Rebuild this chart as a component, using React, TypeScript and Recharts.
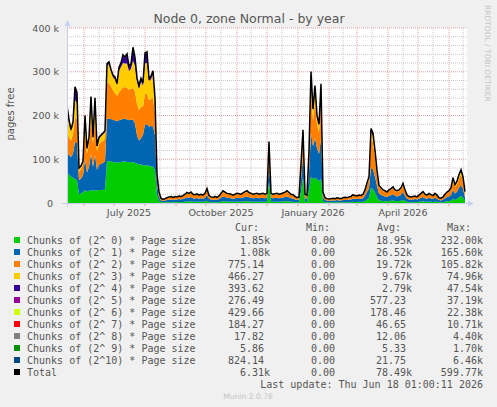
import React from "react";
import { ComposedChart, Area, Line, XAxis, YAxis, CartesianGrid } from "recharts";

// values in thousands of pages, one point every 2 days
const chunk0 = [70,65,60,58,55,52,20,22,25,30,25,28,30,28,30,28,30,30,30,32,
95,96,95,94,93,92,93,94,95,95,94,93,94,93,92,90,88,88,86,87,
86,85,84,83,75,20,5,2,1.5,1.5,2,2,2,2,2,2,2.5,2,2.5,3,
3.5,3,4,3,3,3,3,3,3,3,5,2.5,2,2,2,2,2.5,3,4,4,
3,3,3,3,3,3,3,3,3.5,4,4,3.5,3,3,3,3,3,3,3,3,
3,50,3,3,3,3,3,3,3.5,4,4,3.5,3,3,2,2,2,25,60,3,
3,30,60,55,58,55,50,55,4,2,1.5,1.5,1.5,2,1.5,2,2,1.5,2,2,
2,2,2,3,2.5,2.5,3,2.5,3,4.5,8,12,35,32,24,14,6,5,4.5,4,
4,4.5,5,5.5,4.5,4,4.5,5,7,4.5,3,2,2,2,2.5,2,3,3,4,3,
3,3,3,2.5,3,3,2,2,2,3,4,4,5.5,10,7,9,13,16,12,5];
const chunk1 = [45,45,45,55,85,85,32,34,38,70,45,55,82,55,80,48,57,60,62,63,
97,97,97,96,96,95,96,97,97,98,97,96,97,97,90,65,55,60,70,92,
94,90,92,92,80,22,9,4,3,4,5,6,6,5,6,6,6.5,6,7,8,
9.5,9,10,8,7.5,8.5,7,8,7,9,13,7,6,5,6,5,6.5,9,11,10,
9,8.5,8,7,8,9,8.5,8,9,10,11,9.5,9,8,8.5,9,8,8.5,9,8,
9,40,9,8,8.5,9,8,8.5,9,10,11,9.5,8,7.5,6,5,6,30,45,8,
7,40,100,75,90,70,62,92,10,5,4,3.5,4,4,4,5,4,4,5,5,
5,6,6,7.5,7,6.5,7,7,8,12,18,22,45,45,36,25,16,14,12,11,
10,12,13,15,12,11,12,14,18,12,7,6,6,6,6.5,6,7,9,10,8,
7,9,7.5,7,9,7,5,4,6,8,10,11,13,20,15,17,22,25,20,8];
const chunk2 = [45,40,38,45,55,55,20,22,25,70,43,52,85,52,85,42,48,49,50,52,
80,82,75,68,62,58,64,68,72,72,72,70,70,73,72,72,70,72,65,70,
70,60,62,65,50,16,8,4,3,4,4,5,6,5,6,5,6,6,6.5,7.5,
9,8,9,7.5,7,8,7,7.5,7,8,12.5,6.5,5,5,6,5,6,8,11,9,
8,8,7.5,7,7.5,8,8,7.5,9,10,11,9,8,7.5,8,8,7.5,8,8,7.5,
8,35,8,7.5,8,8,7.5,8,9,9,11,9,7.5,7,6,4,5,25,42,7.5,
7,35,95,60,85,55,50,90,9,4,4,3.5,4,4,4,4,4,4,4,5,
4,5,6,7,6.5,6,7,6.5,7.5,11,16,20,65,60,44,27,14,13.5,11,11,
9,11,12.5,14,11,11,11,13.5,17,11,7,6,5,6,6,5,7,8,10,7.5,
7,8,7,6.5,8,7,4,4,5,7.5,9,11,13,20,15,17,21,24,20,8];
const chunk3 = [50,33,20,22,40,37,6,5,5,25,10,12,38,12,37,10,12,13,15,15,
41,42,33,29,32,24,50,52,56,54,56,43,46,62,60,50,48,57,47,70,
70,44,45,54,30,6,2,1,0.5,0.5,1,1,1,1,1,1,1,1,1,1,
1.5,1.5,1.5,1,1,1,1,1,1,1.5,2,1,1,1,1,1,1,1.5,1.5,1.5,
1.5,1,1,1,1,1.5,1,1,1,1.5,1.5,1.5,1.5,1,1,1.5,1,1,1.5,1,
1.5,10,1.5,1,1,1.5,1,1,1,1.5,1.5,1.5,1,1,1,1,1,7,14,1,
1,10,35,20,28,16,14,28,1.5,1,0.5,0.5,0.5,1,0.5,1,1,0.5,1,1,
1,1,1,1,1,1,1,1,1,2,3,4,18,16,11,6,3,2,2,1.5,
1.5,2,2,2,2,1.5,2,2,2.5,2,1,1,1,1,1,1,1,1.5,1.5,1,
1,1.5,1,1,1.5,1,1,1,1,1,1.5,1.5,3,6,4,5,7,8,6,3];
const chunk4 = [10,5,4,4,27,20,1,1,1,4,1,2,6,2,6,1,2,2,2,2,
4,4,4,4,4,3,6,8,16,12,19,9,10,27,16,7,6,7,6,21,
23,5,6,7,4,1,0.5,0,0,0,0,0,0,0,0,0,0,0,0,0.5,
0.5,0.5,0.5,0.5,0.5,0.5,0,0.5,0,0.5,0.5,0,0,0,0,0,0,0.5,0.5,0.5,
0.5,0.5,0.5,0,0.5,0.5,0.5,0.5,0.5,0.5,0.5,0.5,0.5,0.5,0.5,0.5,0.5,0.5,0.5,0.5,
0.5,3,0.5,0.5,0.5,0.5,0.5,0.5,0.5,0.5,0.5,0.5,0.5,0.5,0,0,0,2,4,0.5,
0,4,8,4,6,3,3,6,0.5,0,0,0,0,0,0,0,0,0,0,0,
0,0,0,0.5,0,0,0,0,0.5,0.5,1,1,5,5,4,2,1,0.5,0.5,0.5,
0.5,0.5,0.5,0.5,0.5,0.5,0.5,0.5,0.5,0.5,0,0,0,0,0,0,0,0.5,0.5,0.5,
0,0.5,0.5,0,0.5,0,0,0,0,0.5,0.5,0.5,0.5,1.5,1,1.5,1.5,2,1.5,1];
const chunk5 = [2,2,1,1,3,3,1,1,1,1,1,1,2,1,2,1,1,1,1,1,
1,1,1,1,1,1,1,1,2,2,2,1,1,3,2,1,1,1,1,2,
2,1,1,1,1,1,0.5,0,0,0,0,0,0,0,0,0,0,0,0,0,
0,0,0,0,0,0,0,0,0,0,0,0,0,0,0,0,0,0,0,0,
0,0,0,0,0,0,0,0,0,0,0,0,0,0,0,0,0,0,0,0,
0,2,0,0,0,0,0,0,0,0,0,0,0,0,0,0,0,1,2,0,
0,1,2,1,1,1,1,1,0,0,0,0,0,0,0,0,0,0,0,0,
0,0,0,0,0,0,0,0,0,0,0,1,2,2,1,1,0,0,0,0,
0,0,0,0,0,0,0,0,0,0,0,0,0,0,0,0,0,0,0,0,
0,0,0,0,0,0,0,0,0,0,0,0,0,0.5,0,0.5,0.5,1,0.5,0];
const chunk6 = [0.3,0.2,0.2,0.2,0.5,0.4,0.1,0.1,0.1,0.2,0.1,0.2,0.3,0.2,0.3,0.1,0.2,0.2,0.2,0.2,
0.3,0.3,0.3,0.2,0.2,0.2,0.3,0.3,0.5,0.4,0.5,0.3,0.3,0.6,0.4,0.3,0.2,0.3,0.2,0.5,
0.5,0.2,0.2,0.3,0.2,0.1,0,0,0,0,0,0,0,0,0,0,0,0,0,0,
0,0,0,0,0,0,0,0,0,0,0,0,0,0,0,0,0,0,0,0,
0,0,0,0,0,0,0,0,0,0,0,0,0,0,0,0,0,0,0,0,
0,0.2,0,0,0,0,0,0,0,0,0,0,0,0,0,0,0,0.1,0.2,0,
0,0.1,0.3,0.2,0.2,0.2,0.1,0.2,0,0,0,0,0,0,0,0,0,0,0,0,
0,0,0,0,0,0,0,0,0,0,0,0.1,0.2,0.2,0.1,0.1,0,0,0,0,
0,0,0,0,0,0,0,0,0,0,0,0,0,0,0,0,0,0,0,0,
0,0,0,0,0,0,0,0,0,0,0,0,0,0.1,0,0.1,0.1,0.1,0.1,0];
const chunk7 = [0.1,0.1,0,0,0.1,0.1,0,0,0,0,0,0,0.1,0,0.1,0,0,0,0,0,
0.1,0.1,0.1,0,0,0,0.1,0.1,0.1,0.1,0.1,0.1,0.1,0.2,0.1,0.1,0,0.1,0,0.1,
0.1,0,0,0.1,0,0,0,0,0,0,0,0,0,0,0,0,0,0,0,0,
0,0,0,0,0,0,0,0,0,0,0,0,0,0,0,0,0,0,0,0,
0,0,0,0,0,0,0,0,0,0,0,0,0,0,0,0,0,0,0,0,
0,0.1,0,0,0,0,0,0,0,0,0,0,0,0,0,0,0,0,0.1,0,
0,0,0.1,0,0.1,0,0,0.1,0,0,0,0,0,0,0,0,0,0,0,0,
0,0,0,0,0,0,0,0,0,0,0,0,0.1,0.1,0,0,0,0,0,0,
0,0,0,0,0,0,0,0,0,0,0,0,0,0,0,0,0,0,0,0,
0,0,0,0,0,0,0,0,0,0,0,0,0,0,0,0,0,0,0,0];
const chunk8 = [0,0,0,0,0.05,0,0,0,0,0,0,0,0,0,0,0,0,0,0,0,
0,0,0,0,0,0,0,0,0.05,0,0.05,0,0,0.05,0,0,0,0,0,0.05,
0.05,0,0,0,0,0,0,0,0,0,0,0,0,0,0,0,0,0,0,0,
0,0,0,0,0,0,0,0,0,0,0,0,0,0,0,0,0,0,0,0,
0,0,0,0,0,0,0,0,0,0,0,0,0,0,0,0,0,0,0,0,
0,0,0,0,0,0,0,0,0,0,0,0,0,0,0,0,0,0,0,0,
0,0,0.05,0,0,0,0,0,0,0,0,0,0,0,0,0,0,0,0,0,
0,0,0,0,0,0,0,0,0,0,0,0,0,0,0,0,0,0,0,0,
0,0,0,0,0,0,0,0,0,0,0,0,0,0,0,0,0,0,0,0,
0,0,0,0,0,0,0,0,0,0,0,0,0,0,0,0,0,0,0,0];
const chunk9 = [0,0,0,0,0,0,0,0,0,0,0,0,0,0,0,0,0,0,0,0,
0,0,0,0,0,0,0,0,0,0,0,0,0,0.05,0,0,0,0,0,0,
0,0,0,0,0,0,0,0,0,0,0,0,0,0,0,0,0,0,0,0,
0,0,0,0,0,0,0,0,0,0,0,0,0,0,0,0,0,0,0,0,
0,0,0,0,0,0,0,0,0,0,0,0,0,0,0,0,0,0,0,0,
0,0,0,0,0,0,0,0,0,0,0,0,0,0,0,0,0,0,0,0,
0,0,0,0,0,0,0,0,0,0,0,0,0,0,0,0,0,0,0,0,
0,0,0,0,0,0,0,0,0,0,0,0,0,0,0,0,0,0,0,0,
0,0,0,0,0,0,0,0,0,0,0,0,0,0,0,0,0,0,0,0,
0,0,0,0,0,0,0,0,0,0,0,0,0,0,0,0,0,0,0,0];
const chunk10 = [0,0,0,0,0.1,0.1,0,0,0,0,0,0,0,0,0,0,0,0,0,0,
0,0,0,0,0,0,0,0,0.1,0,0.1,0,0,0.1,0,0,0,0,0,0.1,
0.1,0,0,0,0,0,0,0,0,0,0,0,0,0,0,0,0,0,0,0,
0,0,0,0,0,0,0,0,0,0,0,0,0,0,0,0,0,0,0,0,
0,0,0,0,0,0,0,0,0,0,0,0,0,0,0,0,0,0,0,0,
0,0,0,0,0,0,0,0,0,0,0,0,0,0,0,0,0,0,0,0,
0,0,0,0,0,0,0,0,0,0,0,0,0,0,0,0,0,0,0,0,
0,0,0,0,0,0,0,0,0,0,0,0,0,0,0,0,0,0,0,0,
0,0,0,0,0,0,0,0,0,0,0,0,0,0,0,0,0,0,0,0,
0,0,0,0,0,0,0,0,0,0,0,0,0,0,0,0,0,0,0,0.8];

const seriesArrays = [chunk0, chunk1, chunk2, chunk3, chunk4, chunk5, chunk6, chunk7, chunk8, chunk9, chunk10];
const seriesKeys = ["c0","c1","c2","c3","c4","c5","c6","c7","c8","c9","c10"];
const seriesColors = ["#00CC00","#0066B3","#FF8000","#FFCC00","#330099","#990099","#CCFF00","#FF0000","#808080","#008F00","#00487D"];
const legendLabels = [
  "Chunks of (2^ 0) * Page size","Chunks of (2^ 1) * Page size","Chunks of (2^ 2) * Page size",
  "Chunks of (2^ 3) * Page size","Chunks of (2^ 4) * Page size","Chunks of (2^ 5) * Page size",
  "Chunks of (2^ 6) * Page size","Chunks of (2^ 7) * Page size","Chunks of (2^ 8) * Page size",
  "Chunks of (2^ 9) * Page size","Chunks of (2^10) * Page size","Total"];
const legendColors = [...seriesColors, "#000000"];
const curVals = ["1.85k","1.08k","775.14","466.27","393.62","276.49","429.66","184.27","17.82","5.86","824.14","6.31k"];
const minVals = ["0.00","0.00","0.00","0.00","0.00","0.00","0.00","0.00","0.00","0.00","0.00","0.00"];
const avgVals = ["18.95k","26.52k","19.72k","9.67k","2.79k","577.23","178.46","46.65","12.06","5.33","21.75","78.49k"];
const maxVals = ["232.00k","165.60k","105.82k","74.96k","47.54k","37.19k","22.38k","10.71k","4.40k","1.70k","6.46k","599.77k"];

// time axis: days since 2025-05-15
const STEP_DAYS = 2;
const monthStarts = [17,47,78,109,139,170,200,231,262,290,321,351,382];
const midMonths = [32,62,93,123,154,184,215,246,276,305,336,366,396];
const labelDays = [62,154,246,336];
const labelTexts = ["July 2025","October 2025","January 2026","April 2026"];
const yTicks = [0,100000,200000,300000,400000];
const yMinor = [20,40,60,80,120,140,160,180,220,240,260,280,320,340,360,380].map((v) => v * 1000);
const yMajor = [100000,200000,300000,400000];

const data = chunk0.map((_, i) => {
  const row: Record<string, number> = { day: i * STEP_DAYS };
  let t = 0;
  seriesArrays.forEach((arr, k) => {
    row[seriesKeys[k]] = arr[i] * 1000;
    t += arr[i] * 1000;
  });
  row.total = t;
  return row;
});

const SANS = "'DejaVu Sans', sans-serif";
const MONO = "'DejaVu Sans Mono', monospace";
const TXT = "#555555";

const YTick = (props: any) => {
  const { x, y, payload } = props;
  const v = payload.value as number;
  const s = v === 0 ? "0" : `${v / 1000} k`;
  return (
    <text x={v === 0 ? x - 6 : x} y={y} dy={3.5} textAnchor="end" fontFamily={SANS} fontSize={9.5} fill={TXT}>
      {s}
    </text>
  );
};

const XTick = (props: any) => {
  const { x, y, payload } = props;
  const idx = labelDays.indexOf(payload.value);
  if (idx >= 0) {
    return (
      <text x={x} y={y} dy={13} textAnchor="middle" fontFamily={SANS} fontSize={9.5} fill={TXT}>
        {labelTexts[idx]}
      </text>
    );
  }
  return <line x1={x} x2={x} y1={y} y2={y + 3} stroke="#E0A0A0" strokeWidth={1} />;
};

const colEnd = (right: number, s: string) => (s.endsWith("k") ? right : right - 6);

export default function App() {
  const rowBase = 243.5;
  return (
    <div style={{ position: "absolute", left: 0, top: 0, width: 497, height: 407, background: "#F0F0F0", overflow: "hidden" }}>
      <ComposedChart width={497} height={407} data={data} margin={{ top: 28, right: 30, bottom: 184, left: 7 }}>
        <CartesianGrid fill="#FFFFFF" stroke="#C8C8C8" strokeDasharray="1 1"
          horizontalValues={yMinor} verticalValues={midMonths} />
        <CartesianGrid fill="none" stroke="#E8A0A0" strokeDasharray="1 1"
          horizontalValues={yMajor} verticalValues={monthStarts} />
        <XAxis dataKey="day" type="number" domain={[0, 400]} ticks={[...monthStarts, ...labelDays].sort((a, b) => a - b)}
          interval={0} tick={<XTick />} tickLine={false} axisLine={false} tickSize={0} tickMargin={0} height={20} allowDataOverflow />
        <YAxis type="number" domain={[0, 400000]} ticks={yTicks} interval={0} tick={<YTick />} tickLine={false}
          axisLine={false} tickSize={0} tickMargin={8} width={60} allowDataOverflow />
        {seriesKeys.map((k, i) => (
          <Area key={k} type="linear" dataKey={k} stackId="s" stroke="none" fill={seriesColors[i]} fillOpacity={1}
            isAnimationActive={false} dot={false} activeDot={false} />
        ))}
        <Line type="linear" dataKey="total" stroke="#000000" strokeWidth={1.5} dot={false} activeDot={false} isAnimationActive={false} />
      </ComposedChart>
      <svg width={497} height={407} style={{ position: "absolute", left: 0, top: 0, pointerEvents: "none" }}>
        {/* axes */}
        <line x1={62} x2={469} y1={203.5} y2={203.5} stroke="#C8CCE8" strokeWidth={1} />
        <line x1={67.5} x2={67.5} y1={207} y2={24} stroke="#C8CCE8" strokeWidth={1} />
        <polygon points="64.5,26 70.5,26 67.5,20" fill="#C8D0F4" />
        <polygon points="468,200.5 468,206.5 474,203.5" fill="#C8D0F4" />
        <text x={249} y={23} textAnchor="middle" fontFamily={SANS} fontSize={12.5} fill={TXT}>
          Node 0, zone Normal - by year
        </text>
        <text transform="translate(14,114) rotate(-90)" textAnchor="middle" fontFamily={SANS} fontSize={10} fill={TXT}>
          pages free
        </text>
        <text transform="translate(485,5) rotate(90)" fontFamily={SANS} fontSize={7.5} fill="#C4C4C4">
          RRDTOOL / TOBI OETIKER
        </text>
        {/* legend header */}
        <text x={235} y={231} fontFamily={MONO} fontSize={10} fill={TXT}>Cur:</text>
        <text x={306} y={231} fontFamily={MONO} fontSize={10} fill={TXT}>Min:</text>
        <text x={377} y={231} fontFamily={MONO} fontSize={10} fill={TXT}>Avg:</text>
        <text x={447} y={231} fontFamily={MONO} fontSize={10} fill={TXT}>Max:</text>
        {legendLabels.map((lbl, i) => {
          const yb = rowBase + i * 12;
          return (
            <g key={lbl}>
              <rect x={14} y={yb - 6.5} width={6} height={6} fill={legendColors[i]} />
              <text x={27} y={yb} fontFamily={MONO} fontSize={10} fill={TXT}>{lbl}</text>
              <text x={colEnd(270, curVals[i])} y={yb} textAnchor="end" fontFamily={MONO} fontSize={10} fill={TXT}>{curVals[i]}</text>
              <text x={colEnd(341, minVals[i])} y={yb} textAnchor="end" fontFamily={MONO} fontSize={10} fill={TXT}>{minVals[i]}</text>
              <text x={colEnd(412, avgVals[i])} y={yb} textAnchor="end" fontFamily={MONO} fontSize={10} fill={TXT}>{avgVals[i]}</text>
              <text x={colEnd(483, maxVals[i])} y={yb} textAnchor="end" fontFamily={MONO} fontSize={10} fill={TXT}>{maxVals[i]}</text>
            </g>
          );
        })}
        <text x={483} y={387.5} textAnchor="end" fontFamily={MONO} fontSize={10} fill={TXT}>
          Last update: Thu Jun 18 01:00:11 2026
        </text>
        <text x={248} y={398.5} textAnchor="middle" fontFamily={SANS} fontSize={7.6} fill="#C4C4C4">
          Munin 2.0.76
        </text>
      </svg>
    </div>
  );
}
